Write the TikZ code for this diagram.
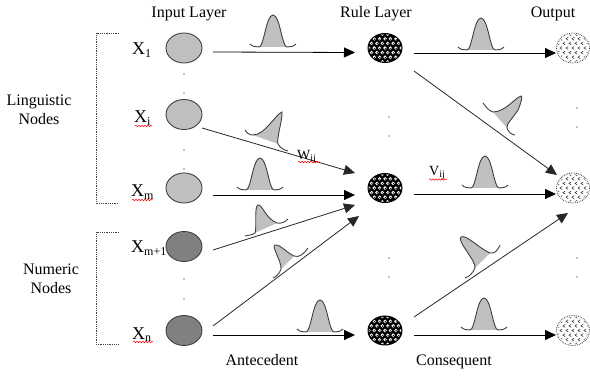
\documentclass[tikz,border=0pt]{standalone}
\usepackage{fontspec}
\setmainfont{Liberation Serif}
\usetikzlibrary{arrows.meta,shapes.geometric,decorations.pathmorphing}
\definecolor{lg}{HTML}{C0C0C0}
\definecolor{dg}{HTML}{808080}
\definecolor{ln}{HTML}{404040}
\newcommand{\sbx}[1]{\raisebox{-2.5pt}{\fontsize{12}{12}\selectfont #1}}
\newcommand{\sbw}[1]{\raisebox{-2pt}{\fontsize{10}{10}\selectfont #1}}
\begin{document}
\begin{tikzpicture}[x=1pt,y=-1pt,
  inL/.style={ellipse,draw=ln,fill=lg,line width=0.9pt,minimum width=36pt,minimum height=30pt,inner sep=0},
  inN/.style={inL,fill=dg},
  rul/.style={ellipse,minimum width=35pt,minimum height=30pt,inner sep=0},
  outn/.style={ellipse,minimum width=33pt,minimum height=30pt,inner sep=0},
  con/.style={line width=0.8pt,-{Triangle[length=11pt,width=10pt]}},
  lbl/.style={font=\fontsize{16}{19}\selectfont,inner sep=0},
  xl/.style={font=\fontsize{18}{20}\selectfont,inner sep=0,anchor=base west},
  wl/.style={font=\fontsize{14}{16}\selectfont,inner sep=0,anchor=base west},
  br/.style={densely dotted,draw=ln,line width=0.8pt},
  spell/.style={red,line width=0.5pt,decorate,decoration={snake,amplitude=0.7pt,segment length=3pt}},
  bline/.style={draw=ln,line width=0.9pt},
  bell/.pic={
    \fill[lg] (-14,0) .. controls (-9,0) and (-7,-32) .. (0,-32) .. controls (7,-32) and (9,0) .. (14,0) -- cycle;
    \draw[ln,line width=0.9pt] (-23,-3) .. controls (-21,-0.5) and (-17,0) .. (-14,0) .. controls (-9,0) and (-7,-32) .. (0,-32) .. controls (7,-32) and (9,0) .. (14,0) .. controls (17,0) and (21,-0.5) .. (23,-3);
  }
]
\useasboundingbox (0,0) rectangle (590,377);

% headings
\node[lbl,anchor=base] (tin) at (189,18) {Input Layer};
\node[lbl,anchor=base] (trl) at (376,18) {Rule Layer};
\node[lbl,anchor=base] (tout) at (553,18) {Output};
\node[lbl,align=center,anchor=north] (tling) at (39,94.5) {Linguistic\\Nodes};
\node[lbl,align=center,anchor=north] (tnum) at (51,263.5) {Numeric\\Nodes};
\node[lbl,anchor=base] (tant) at (262,366) {Antecedent};
\node[lbl,anchor=base] (tcon) at (454,366) {Consequent};

% brackets
\draw[br] (119,33) -- (96,33) -- (96,203) -- (119,203);
\draw[br] (119,232) -- (96,232) -- (96,344) -- (119,344);

% input nodes
\node[inL] (I1) at (184,48) {};
\node[inL] (Ii) at (184,114.5) {};
\node[inL] (Im) at (184,188) {};
\node[inN] (Im1) at (184,246.5) {};
\node[inN] (In) at (184,330.5) {};

% input labels
\node[xl] (lx1) at (132,55) {X\sbx{1}};
\node[xl] (lxi) at (134,123) {X\sbx{i}};
\node[xl] (lxm) at (131,197) {X\sbx{m}};
\node[xl] (lxm1) at (131,253) {X\sbx{m+1}};
\node[xl] (lxn) at (132,339) {X\sbx{n}};
\draw[spell] (135,126) -- (152,126);
\draw[spell] (132,200) -- (153,200);
\draw[spell] (133,342) -- (153,342);

% rule nodes
\node[rul] (R1) at (385,48) {};
\node[rul] (R2) at (385,188) {};
\node[rul] (R3) at (385,330.5) {};
\foreach \r in {R1,R2,R3} {
  \fill[black] (\r.center) ellipse [x radius=17.5, y radius=15];
  \begin{scope}
    \clip (\r.center) ellipse [x radius=16.3, y radius=13.8];
    \foreach \j in {-3,...,3} \foreach \i in {-5,...,5} {
      \fill[white] ([shift={({\i*5.4+\j*2.7},{\j*4.6})}]\r.center) circle (1.8);
      \fill[black] ([shift={({\i*5.4+\j*2.7+0.3},{\j*4.6+0.3})}]\r.center) circle (0.7);
    }
  \end{scope}
}

% output nodes
\node[outn] (O1) at (573,48) {};
\node[outn] (O2) at (573,188) {};
\node[outn] (O3) at (573,330.5) {};
\foreach \o in {O1,O2,O3} {
  \fill[white] (\o.center) ellipse [x radius=16.5, y radius=15];
  \begin{scope}
    \clip (\o.center) ellipse [x radius=15.3, y radius=13.8];
    \foreach \j in {-3,...,3} \foreach \i in {-4,...,4}
      \draw[ln,line width=0.6pt] ([shift={({\i*6+\j*3+1.2},{\j*4.6-1.5})}]\o.center) -- ++(-2.2,1.5) -- ++(2.2,1.5);
  \end{scope}
  \draw[ln,densely dotted,line width=0.8pt] (\o.center) ellipse [x radius=16.5, y radius=15];
}

% dots
\foreach \y in {74,93,150,169,279,299} \fill (184,\y) circle (0.7);
\foreach \y in {117,136,258,277} \fill (389,\y) circle (0.6);
\foreach \y in {108,127,258,277} \fill (577,\y) circle (0.6);

% connectors
\draw[con] ([shift={(29,4)}]I1.center) -- ([shift={(-30,4.5)}]R1.center);
\draw[con] ([shift={(29,5)}]R1.center) -- ([shift={(-17,5)}]O1.center);
\draw[con,draw=black!85] ([shift={(29,23)}]R1.center) -- ([shift={(-16,-13)}]O2.center);
\draw[con,draw=black!85] ([shift={(18,13.5)}]Ii.center) -- ([shift={(-30,-15)}]R2.center);
\draw[con] ([shift={(29,7)}]Im.center) -- ([shift={(-30,7)}]R2.center);
\draw[con,draw=black!85] ([shift={(29,3.5)}]Im1.center) -- ([shift={(-30,17)}]R2.center);
\draw[con,draw=black!85] ([shift={(29,-4.5)}]In.center) -- ([shift={(-26,28)}]R2.center);
\draw[con] ([shift={(29,4.5)}]In.center) -- ([shift={(-30,4.5)}]R3.center);
\draw[con] ([shift={(29,6)}]R2.center) -- ([shift={(-17,6)}]O2.center);
\draw[con,draw=black!85] ([shift={(29,-13.5)}]R3.center) -- ([shift={(-5,25)}]O2.center);
\draw[con] ([shift={(29,4.5)}]R3.center) -- ([shift={(-17,4.5)}]O3.center);

% weight labels
\node[wl] (lw) at (297,160) {W\sbw{ij}};
\node[wl] (lv) at (429,176) {V\sbw{ij}};
\draw[spell] (298,162) -- (320,162);
\draw[spell] (429,179.5) -- (447,179.5);

% symmetric membership functions
\pic at (273,47) {bell};
\pic at (481,50) {bell};
\pic at (260,190) {bell};
\pic at (320,332) {bell};
\pic at (485,188) {bell};
\pic at (484,330) {bell};

% skewed membership functions
% on Xi -> R2
\fill[lg] (253,135) .. controls (265,135) and (275,115) .. (282,112) .. controls (283,118) and (276,140) .. (278,144) -- cycle;
\draw[bline] (245,130) .. controls (247,133) and (249,135) .. (253,135) .. controls (265,135) and (275,115) .. (282,112) .. controls (283,118) and (276,140) .. (278,144) .. controls (280,148) and (284,150) .. (288,151);
% on R1 -> O2
\fill[lg] (493,112) .. controls (505,112) and (515,98) .. (521,96) .. controls (523,96) and (521,103) .. (518,110) .. controls (513,118) and (506,124) .. (507,128) -- cycle;
\draw[bline] (483,103) .. controls (486,107) and (489,111) .. (493,112) .. controls (505,112) and (515,98) .. (521,96) .. controls (523,96) and (521,103) .. (518,110) .. controls (513,118) and (506,124) .. (507,128) .. controls (508,132) and (512,135) .. (515,135);
% on Xm+1 -> R2
\fill[lg] (255,233) .. controls (257,228) and (254,206) .. (258,205) .. controls (262,204) and (266,219) .. (277,223) -- cycle;
\draw[bline] (245,236) .. controls (249,235) and (253,235) .. (255,233) .. controls (257,228) and (254,206) .. (258,205) .. controls (262,204) and (266,219) .. (277,223) .. controls (281,224) and (285,222) .. (288,219);
% on Xn -> R2
\fill[lg] (281,269) .. controls (282,262) and (271,246) .. (275,245) .. controls (280,244) and (287,253) .. (294,256) -- cycle;
\draw[bline] (273,278) .. controls (276,277) and (280,273) .. (281,269) .. controls (282,262) and (271,246) .. (275,245) .. controls (280,244) and (287,253) .. (294,256) .. controls (299,258) and (304,254) .. (308,248);
% on R3 -> O2
\fill[lg] (475,268) .. controls (477,262) and (456,240) .. (461,237) .. controls (466,234) and (480,249) .. (490,253) -- cycle;
\draw[bline] (465,278) .. controls (469,277) and (473,273) .. (475,268) .. controls (477,262) and (456,240) .. (461,237) .. controls (466,234) and (480,249) .. (490,253) .. controls (495,254) and (498,250) .. (500,245);
\end{tikzpicture}
\end{document}
